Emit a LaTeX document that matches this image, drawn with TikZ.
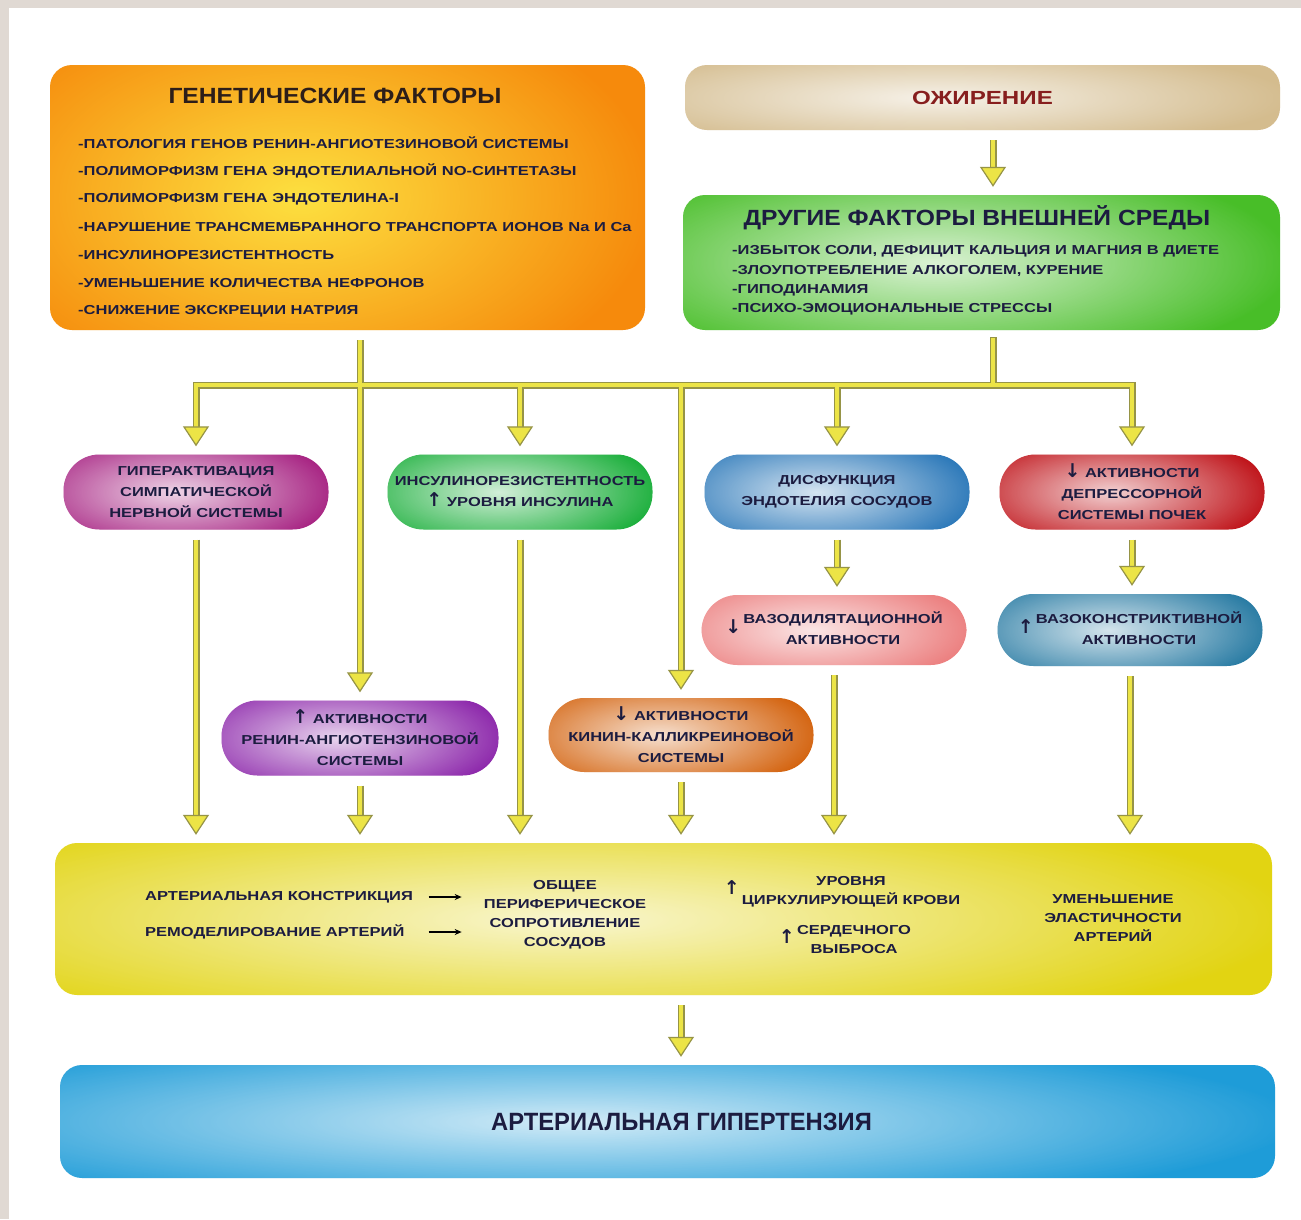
\documentclass[tikz,border=0pt]{standalone}
\usepackage{fontspec}
\setmainfont{Liberation Sans}
\newfontfamily\widefont[FakeStretch=1.27]{Liberation Sans}
\newfontfamily\headfont[FakeStretch=1.12]{Liberation Sans}
\newfontfamily\narrowfont[FakeStretch=0.95]{Liberation Sans}
\newfontfamily\arrowfont{DejaVu Sans}
\newcommand{\uparr}{{\arrowfont\fontsize{19}{19}\selectfont ↑}}
\newcommand{\downarr}{{\arrowfont\fontsize{19}{19}\selectfont ↓}}
\usetikzlibrary{arrows.meta,calc,fadings}
\definecolor{framegray}{RGB}{224,217,211}
\definecolor{inkblue}{RGB}{28,28,64}
\definecolor{inkdark}{RGB}{45,30,25}
\definecolor{inkred}{RGB}{135,30,30}
\definecolor{pipeyellow}{RGB}{236,228,70}
\definecolor{pipeedge}{RGB}{150,148,70}
\definecolor{genorange}{RGB}{246,138,12}
\definecolor{obesetan}{RGB}{212,188,142}
\definecolor{envgreen}{RGB}{72,190,40}
\definecolor{hypermag}{RGB}{168,38,132}
\definecolor{insgreen}{RGB}{30,176,62}
\definecolor{endoblue}{RGB}{46,122,186}
\definecolor{depred}{RGB}{192,22,28}
\definecolor{dilpink}{RGB}{236,128,128}
\definecolor{conteal}{RGB}{42,124,164}
\definecolor{raspurple}{RGB}{142,42,172}
\definecolor{kininorange}{RGB}{212,100,16}
\definecolor{effyellow}{RGB}{226,212,18}
\definecolor{htblue}{RGB}{30,156,216}
\tikzfading[name=softglow, inner color=transparent!0, outer color=transparent!100]

\begin{document}
\begin{tikzpicture}[x=1pt,y=-1pt,
    box/.style={rectangle, rounded corners=22pt, inner sep=0pt},
    pill/.style={rectangle, rounded corners=36pt, minimum width=265pt, minimum height=75pt,
      inner sep=2pt, align=center, text=inkblue, font=\widefont\bfseries\fontsize{13}{21}\selectfont},
    glow/.style={path picture={
      \fill[#1, fill opacity=0.8, path fading=softglow] let \p1=(path picture bounding box.south west),
        \p2=(path picture bounding box.north east) in
        ({0.58*\x1+0.42*\x2},{0.5*\y1+0.5*\y2}) ellipse ({0.6*(\x2-\x1)} and {0.8*(\y2-\y1)});}},
    glow/.default=white,
    item/.style={anchor=west, inner sep=0pt, text=inkblue, font=\widefont\bfseries\fontsize{13}{16}\selectfont},
    note/.style={align=center, inner sep=0pt, text=inkblue, font=\widefont\bfseries\fontsize{13}{19}\selectfont},
    headtext/.style={font=\headfont\bfseries\fontsize{22}{26}\selectfont},
    rim/.style={draw=pipeedge, line width=7pt, line cap=rect},
    core/.style={draw=pipeyellow, line width=4pt, line cap=rect},
    rimarrow/.style={draw=pipeedge, line width=7pt, shorten >=26pt},
    corearrow/.style={draw=pipeyellow, line width=4pt, shorten >=8pt,
      -{Triangle[width=26pt, length=20pt, color=pipeedge, fill=pipeyellow, line width=1.2pt]}},
    textarrow/.style={-{Stealth[length=7pt, width=6pt]}, line width=1.5pt, black}]

    \useasboundingbox (0,0) rectangle (1301,1219);
    \fill[framegray] (0,0) rectangle (1301,1219);
    \fill[white] (9,8) rectangle (1301,1219);

    % Genetic factors
    \node[box, fill=genorange, glow=yellow!70!white, minimum width=595pt, minimum height=265pt] (genetic) at (347.5,197.5) {};
    \node[headtext, text=inkdark] (genhead) at (335,96) {ГЕНЕТИЧЕСКИЕ ФАКТОРЫ};
    \foreach \i/\t in {0/{-ПАТОЛОГИЯ ГЕНОВ РЕНИН-АНГИОТЕЗИНОВОЙ СИСТЕМЫ},
                       1/{-ПОЛИМОРФИЗМ ГЕНА ЭНДОТЕЛИАЛЬНОЙ NO-СИНТЕТАЗЫ},
                       2/{-ПОЛИМОРФИЗМ ГЕНА ЭНДОТЕЛИНА-I},
                       3/{-НАРУШЕНИЕ ТРАНСМЕМБРАННОГО ТРАНСПОРТА ИОНОВ Na И Ca},
                       4/{-ИНСУЛИНОРЕЗИСТЕНТНОСТЬ},
                       5/{-УМЕНЬШЕНИЕ КОЛИЧЕСТВА НЕФРОНОВ},
                       6/{-СНИЖЕНИЕ ЭКСКРЕЦИИ НАТРИЯ}} {
        \node[item] (gen\i) at (78,{143+28*\i}) {\t};
    }

    % Obesity and environment
    \node[box, fill=obesetan, glow, minimum width=595pt, minimum height=65pt, text=inkred,
          font=\widefont\bfseries\fontsize{19}{24}\selectfont] (obesity) at (982.5,97.5) {ОЖИРЕНИЕ};
    \node[box, fill=envgreen, glow, minimum width=597pt, minimum height=135pt] (env) at (981.5,262.5) {};
    \node[headtext, text=inkblue] (envhead) at (977,218) {ДРУГИЕ ФАКТОРЫ ВНЕШНЕЙ СРЕДЫ};
    \foreach \i/\t in {0/{-ИЗБЫТОК СОЛИ, ДЕФИЦИТ КАЛЬЦИЯ И МАГНИЯ В ДИЕТЕ},
                       1/{-ЗЛОУПОТРЕБЛЕНИЕ АЛКОГОЛЕМ, КУРЕНИЕ},
                       2/{-ГИПОДИНАМИЯ},
                       3/{-ПСИХО-ЭМОЦИОНАЛЬНЫЕ СТРЕССЫ}} {
        \node[item] (env\i) at (732,{251+19.5*\i}) {\t};
    }

    % Mechanisms
    \node[pill, fill=hypermag, glow] (hyper) at (196,492) {ГИПЕРАКТИВАЦИЯ\\СИМПАТИЧЕСКОЙ\\НЕРВНОЙ СИСТЕМЫ};
    \node[pill, fill=insgreen, glow] (insulin) at (520,492) {ИНСУЛИНОРЕЗИСТЕНТНОСТЬ\\\uparr\ УРОВНЯ ИНСУЛИНА};
    \node[pill, fill=endoblue, glow] (endo) at (837,492) {ДИСФУНКЦИЯ\\ЭНДОТЕЛИЯ СОСУДОВ};
    \node[pill, fill=depred, glow] (depress) at (1132,492) {\downarr\ АКТИВНОСТИ\\ДЕПРЕССОРНОЙ\\СИСТЕМЫ ПОЧЕК};
    \node[pill, fill=dilpink, glow, minimum height=70pt] (vasodil) at (834,630)
        {\downarr\,\begin{tabular}{@{}c@{}}ВАЗОДИЛЯТАЦИОННОЙ\\АКТИВНОСТИ\end{tabular}};
    \node[pill, fill=conteal, glow, minimum height=72pt] (vasocon) at (1130,630)
        {\uparr\,\begin{tabular}{@{}c@{}}ВАЗОКОНСТРИКТИВНОЙ\\АКТИВНОСТИ\end{tabular}};
    \node[pill, fill=raspurple, glow, minimum width=277pt] (ras) at (360,738) {\uparr\ АКТИВНОСТИ\\РЕНИН-АНГИОТЕНЗИНОВОЙ\\СИСТЕМЫ};
    \node[pill, fill=kininorange, glow, minimum height=74pt] (kinin) at (681,735) {\downarr\ АКТИВНОСТИ\\КИНИН-КАЛЛИКРЕИНОВОЙ\\СИСТЕМЫ};

    % Effects
    \node[box, fill=effyellow, glow, minimum width=1217pt, minimum height=152pt] (effects) at (663.5,919) {};
    \node[note, anchor=west] (constr) at (145,897) {АРТЕРИАЛЬНАЯ КОНСТРИКЦИЯ};
    \node[note, anchor=west] (remodel) at (145,932) {РЕМОДЕЛИРОВАНИЕ АРТЕРИЙ};
    \node[note] (resist) at (565,915) {ОБЩЕЕ\\ПЕРИФЕРИЧЕСКОЕ\\СОПРОТИВЛЕНИЕ\\СОСУДОВ};
    \node[note] (blood) at (842,891) {\uparr\,\begin{tabular}{@{}c@{}}УРОВНЯ\\ЦИРКУЛИРУЮЩЕЙ КРОВИ\end{tabular}};
    \node[note] (output) at (845,940) {\uparr\,\begin{tabular}{@{}c@{}}СЕРДЕЧНОГО\\ВЫБРОСА\end{tabular}};
    \node[note] (elastic) at (1113,918) {УМЕНЬШЕНИЕ\\ЭЛАСТИЧНОСТИ\\АРТЕРИЙ};
    \foreach \n in {constr,remodel}
        \draw[textarrow] ([xshift=-55pt]\n.east -| resist.west) -- ([xshift=-22pt]\n.east -| resist.west);

    % Result
    \node[box, fill=htblue, glow, minimum width=1215pt, minimum height=113pt, text=inkblue,
          text depth=0pt, font=\narrowfont\bfseries\fontsize{25}{30}\selectfont] (hyperten) at (667.5,1121.5)
          {\hspace*{28pt}АРТЕРИАЛЬНАЯ ГИПЕРТЕНЗИЯ};

    % Pipes: olive rim first, yellow core on top
    \coordinate (bus) at (0,385);
    \coordinate (envdrop) at (993,330);
    \foreach \s/\a in {rim/rimarrow, core/corearrow} {
        \draw[\s] (hyper.north |- bus) -- (depress.north |- bus);
        \draw[\s, shorten <=10pt] (envdrop) -- (envdrop |- bus);
        \draw[\a, shorten <=10pt] (ras.north |- genetic.south) -- (ras.north);
        \foreach \n in {hyper,insulin,endo,depress,kinin}
            \draw[\a] (\n.north |- bus) -- (\n.north);
        \foreach \u/\v in {endo/vasodil,depress/vasocon}
            \draw[\a, shorten <=10pt] (\u.south) -- (\u.south |- \v.north);
        \foreach \n in {hyper,ras,insulin,kinin,vasodil,vasocon}
            \draw[\a, shorten <=10pt] (\n.south) -- (\n.south |- effects.north);
        \draw[\a, shorten <=10pt] (obesity.south -| envdrop) -- (env.north -| envdrop);
        \draw[\a, shorten <=10pt] (effects.south -| kinin) -- (hyperten.north -| kinin);
    }
\end{tikzpicture}
\end{document}
